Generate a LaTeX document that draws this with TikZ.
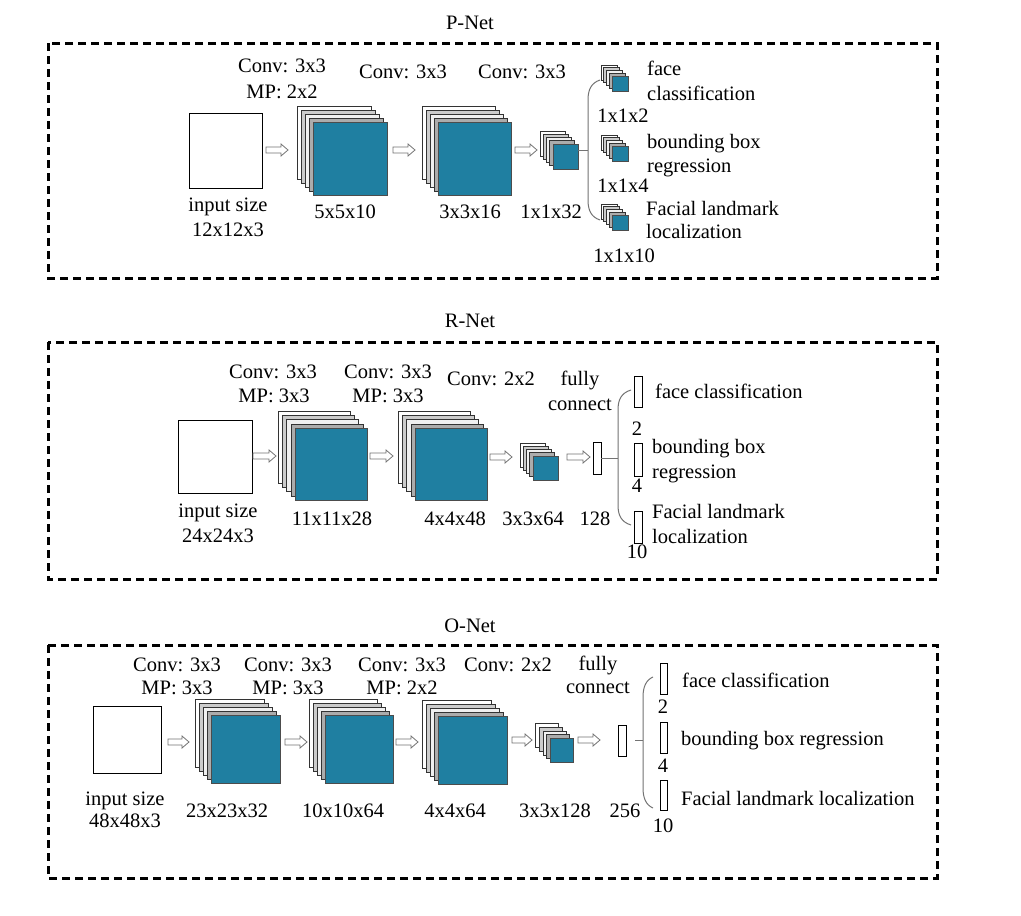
\documentclass[tikz,border=0pt]{standalone}
\usepackage{fontspec}
\setmainfont{Liberation Serif}
\definecolor{tealc}{HTML}{1F7FA1}
\colorlet{lay4}{white}
\colorlet{lay3}{gray!40}
\colorlet{lay2}{gray!12}
\colorlet{lay1}{gray!65}
\newcommand\stk[6]{%
  \foreach \ii/\lc in {4/lay4,3/lay3,2/lay2,1/lay1}{
    \draw[layer,fill=\lc] ({#2-\ii*#6},{#3-\ii*#6}) rectangle ++(#4,#5);
  }
  \node[tealbox, minimum width=#4pt, minimum height=#5pt] (#1) at (#2,#3) {};
}
% hollow arrow: #1 name, #2 centre x, #3 y, #4 half length
\newcommand\harr[4]{%
  \coordinate (#1) at (#2,#3);
  \draw[harrow] ({#2-#4},{#3-3}) -- ({#2+#4-7},{#3-3}) -- ({#2+#4-7},{#3-6})
     -- ({#2+#4},#3) -- ({#2+#4-7},{#3+6}) -- ({#2+#4-7},{#3+3})
     -- ({#2-#4},{#3+3}) -- cycle;
}
\begin{document}
\begin{tikzpicture}[x=1pt,y=-1pt,
  lbl/.style={font=\fontsize{20.5}{24}\selectfont, inner sep=0pt, text height=14pt, text depth=4pt},
  lbll/.style={lbl, anchor=west},
  dashbox/.style={draw, line width=3pt, dash pattern=on 8pt off 5pt},
  inbox/.style={draw, fill=white, line width=0.8pt, inner sep=0pt, outer sep=0pt, anchor=north west},
  layer/.style={draw=black!80, line width=0.6pt},
  tealbox/.style={draw=black!70, fill=tealc, line width=0.6pt, inner sep=0pt, outer sep=0pt, anchor=north west},
  harrow/.style={draw=black!55, fill=white, line width=0.8pt, line join=miter},
  bar/.style={draw, fill=white, line width=0.8pt, inner sep=0pt, outer sep=0pt, anchor=north west},
  brace/.style={draw=black!55, line width=1pt}]
\useasboundingbox[fill=white] (0,0) rectangle (1021,916);

% ================= P-Net =================
\node[lbl] (ptitle) at (470,24) {P-Net};
\draw[dashbox] (48,43) rectangle (937,278);
\node[inbox, minimum width=73pt, minimum height=75pt] (pin) at (189,113) {};
\harr{pa1}{277}{150}{11}
\stk{p1}{313}{122}{74}{73}{4}
\harr{pa2}{404}{150}{11}
\stk{p2}{438}{122}{73}{73}{4}
\harr{pa3}{526}{150}{11}
\stk{p3}{553}{144}{25}{25}{3.3}
\coordinate (pbr) at (588,150);
\draw[brace] (600,80) .. controls (591,83) and (588,90) .. (588,100) -- (588,200) .. controls (588,210) and (591,217) .. (600,220);
\draw[brace] (pbr -| p3.east) -- (pbr);
\stk{po1}{612}{76}{16}{15}{2.8}
\stk{po2}{612}{146}{16}{15}{2.8}
\stk{po3}{612}{215}{16}{15}{2.8}
\node[lbl] (pt1) at (282,67) {Conv: 3x3};
\node[lbl] (pt2) at (282,93) {MP: 2x2};
\node[lbl] (pt3) at (403,73) {Conv: 3x3};
\node[lbl] (pt4) at (522,73) {Conv: 3x3};
\node[lbl] (pt5) at (228,206) {input size};
\node[lbl] (pt6) at (228,231) {12x12x3};
\node[lbl] (pt7) at (345,213) {5x5x10};
\node[lbl] (pt8) at (470,213) {3x3x16};
\node[lbl] (pt9) at (551,213) {1x1x32};
\node[lbll] (pt10) at (647,70) {face};
\node[lbll] (pt11) at (647,95) {classification};
\node[lbl] (pt12) at (623,117) {1x1x2};
\node[lbll] (pt13) at (647,143) {bounding box};
\node[lbll] (pt14) at (647,167) {regression};
\node[lbl] (pt15) at (623,187) {1x1x4};
\node[lbll] (pt16) at (646,210) {Facial landmark};
\node[lbll] (pt17) at (646,233) {localization};
\node[lbl] (pt18) at (624,257) {1x1x10};

% ================= R-Net =================
\node[lbl] (rtitle) at (470,322) {R-Net};
\draw[dashbox] (48,342) rectangle (937,579);
\node[inbox, minimum width=74pt, minimum height=73pt] (rin) at (178,420) {};
\harr{ra1}{264.5}{456}{11.5}
\stk{r1}{295}{428}{72}{72}{4.2}
\harr{ra2}{381.5}{456}{11.5}
\stk{r2}{415}{428}{72}{72}{4.2}
\harr{ra3}{501}{457}{11}
\stk{r3}{533}{456}{25}{24}{3.3}
\harr{ra4}{578.5}{457}{11.5}
\node[bar, minimum width=8pt, minimum height=32pt] (rfc) at (593,442) {};
\coordinate (rbr) at (618,458);
\draw[brace] (631,390) .. controls (621,393) and (618,400) .. (618,410) -- (618,505) .. controls (618,515) and (621,522) .. (631,525);
\draw[brace] (rfc.east) -- (rbr);
\node[bar, minimum width=8pt, minimum height=31pt] (ro1) at (634,376) {};
\node[bar, minimum width=8pt, minimum height=33pt] (ro2) at (634,443) {};
\node[bar, minimum width=8pt, minimum height=32pt] (ro3) at (634,511) {};
\node[lbl] (rt1) at (273,373) {Conv: 3x3};
\node[lbl] (rt2) at (274,397) {MP: 3x3};
\node[lbl] (rt3) at (388,373) {Conv: 3x3};
\node[lbl] (rt4) at (388,397) {MP: 3x3};
\node[lbl] (rt5) at (491,380) {Conv: 2x2};
\node[lbl] (rt6) at (580,380) {fully};
\node[lbl] (rt7) at (580,405) {connect};
\node[lbl] (rt8) at (218,512) {input size};
\node[lbl] (rt9) at (218,537) {24x24x3};
\node[lbl] (rt10) at (332,520) {11x11x28};
\node[lbl] (rt11) at (455,520) {4x4x48};
\node[lbl] (rt12) at (533,520) {3x3x64};
\node[lbl] (rt13) at (595,520) {128};
\node[lbll] (rt14) at (655,393) {face classification};
\node[lbl] (rt15) at (637,430) {2};
\node[lbll] (rt16) at (652,448) {bounding box};
\node[lbll] (rt17) at (652,473) {regression};
\node[lbl] (rt18) at (637,487) {4};
\node[lbll] (rt19) at (652,513) {Facial landmark};
\node[lbll] (rt20) at (652,538) {localization};
\node[lbl] (rt21) at (637,553) {10};

% ================= O-Net =================
\node[lbl] (otitle) at (470,627) {O-Net};
\draw[dashbox] (48,645) rectangle (937,878);
\node[inbox, minimum width=68pt, minimum height=67pt] (oin) at (93,706) {};
\harr{oa1}{178.5}{742}{10.5}
\stk{o1}{211}{715}{69}{68}{4}
\harr{oa2}{296}{742}{11}
\stk{o2}{325}{715}{68}{68}{4}
\harr{oa3}{407}{742}{11}
\stk{o3}{438}{716}{69}{68}{4}
\harr{oa4}{522}{740}{10}
\stk{o4}{550}{738}{23}{24}{3.6}
\harr{oa5}{589}{740}{11}
\node[bar, minimum width=8pt, minimum height=31pt] (ofc) at (618,725) {};
\coordinate (obr) at (643,740.5);
\draw[brace] (653,677) .. controls (646,680) and (643,687) .. (643,697) -- (643,788) .. controls (643,798) and (646,805) .. (653,808);
\draw[brace] ([xshift=9pt]ofc.east) -- (obr);
\node[bar, minimum width=7pt, minimum height=31pt] (oo1) at (660,663) {};
\node[bar, minimum width=7pt, minimum height=31pt] (oo2) at (660,722) {};
\node[bar, minimum width=7pt, minimum height=30pt] (oo3) at (660,780) {};
\node[lbl] (ot1) at (177,666) {Conv: 3x3};
\node[lbl] (ot2) at (177,689) {MP: 3x3};
\node[lbl] (ot3) at (288,666) {Conv: 3x3};
\node[lbl] (ot4) at (288,689) {MP: 3x3};
\node[lbl] (ot5) at (402,666) {Conv: 3x3};
\node[lbl] (ot6) at (402,689) {MP: 2x2};
\node[lbl] (ot7) at (508,666) {Conv: 2x2};
\node[lbl] (ot8) at (598,665) {fully};
\node[lbl] (ot9) at (598,688) {connect};
\node[lbl] (ot10) at (125,800) {input size};
\node[lbl] (ot11) at (125,822) {48x48x3};
\node[lbl] (ot12) at (227,812) {23x23x32};
\node[lbl] (ot13) at (343,812) {10x10x64};
\node[lbl] (ot14) at (455,812) {4x4x64};
\node[lbl] (ot15) at (555,812) {3x3x128};
\node[lbl] (ot16) at (625,812) {256};
\node[lbll] (ot17) at (682,682) {face classification};
\node[lbl] (ot18) at (663,708) {2};
\node[lbll] (ot19) at (681,740) {bounding box regression};
\node[lbl] (ot20) at (663,767) {4};
\node[lbll] (ot21) at (681,800) {Facial landmark localization};
\node[lbl] (ot22) at (663,827) {10};
\end{tikzpicture}
\end{document}
